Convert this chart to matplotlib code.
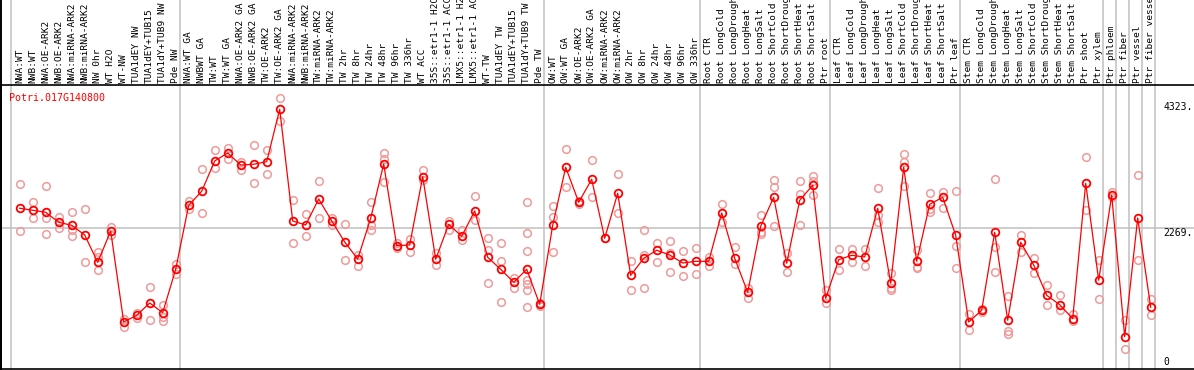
import matplotlib
matplotlib.use("Agg")
import matplotlib.pyplot as plt
from matplotlib.transforms import blended_transform_factory

gene = "Potri.017G140800"

labels = [
    "NWA:WT", "NWB:WT", "NWA:OE-ARK2", "NWB:OE-ARK2", "NWA:miRNA-ARK2", "NWB:miRNA-ARK2",
    "NW 0hr", "WT H2O", "WT-NW", "TUA1dEY NW", "TUA1dEY+TUB15", "TUA1dY+TUB9 NW", "Pde NW",
    "NWA:WT GA", "NWBWT GA", "TW:WT", "TW:WT GA", "NWA:OE-ARK2 GA", "NWB:OE-ARK2 GA",
    "TW:OE-ARK2", "TW:OE-ARK2 GA", "NWA:miRNA-ARK2", "NWB:miRNA-ARK2", "TW:miRNA-ARK2",
    "TW:miRNA-ARK2", "TW 2hr", "TW 8hr", "TW 24hr", "TW 48hr", "TW 96hr", "TW 336hr",
    "WT ACC", "35S::etr1-1 H2O", "35S::etr1-1 ACC", "LMX5::etr1-1 H2O", "LMX5::etr1-1 ACC",
    "WT-TW", "TUA1dEY TW", "TUA1dEY+TUB15", "TUA1dY+TUB9 TW", "Pde TW",
    "OW:WT", "OW:WT GA", "OW:OE-ARK2", "OW:OE-ARK2 GA", "OW:miRNA-ARK2", "OW:miRNA-ARK2",
    "OW 2hr", "OW 8hr", "OW 24hr", "OW 48hr", "OW 96hr", "OW 336hr",
    "Root CTR", "Root LongCold", "Root LongDrought", "Root LongHeat", "Root LongSalt",
    "Root ShortCold", "Root ShortDrought", "Root ShortHeat", "Root ShortSalt", "Ptr root",
    "Leaf CTR", "Leaf LongCold", "Leaf LongDrought", "Leaf LongHeat", "Leaf LongSalt",
    "Leaf ShortCold", "Leaf ShortDrought", "Leaf ShortHeat", "Leaf ShortSalt", "Ptr leaf",
    "Stem CTR", "Stem LongCold", "Stem LongDrought", "Stem LongHeat", "Stem LongSalt",
    "Stem ShortCold", "Stem ShortDrought", "Stem ShortHeat", "Stem ShortSalt", "Ptr shoot",
    "Ptr xylem", "Ptr phloem", "Ptr fiber", "Ptr vessel", "Ptr fiber vessel",
]

means = [
    2591, 2558, 2525, 2362, 2313, 2155, 1710, 2220, 737, 846, 1047, 889, 1596,
    2639, 2868, 3362, 3492, 3296, 3308, 3350, 4205, 2384, 2318, 2742, 2384, 2041,
    1764, 2428, 3313, 1981, 1992, 3106, 1759, 2330, 2134, 2547, 1792, 1596, 1384,
    1596, 1025,
    2313, 3259, 2688, 3063, 2101, 2835, 1498, 1775, 1906, 1829, 1699, 1726,
    1726, 2514, 1775, 1221, 2297, 2770, 1694, 2721, 2966, 1123,
    1753, 1824, 1797, 2591, 1368, 3259, 1726, 2656, 2770, 2150,
    737, 928, 2199, 765, 2036, 1666, 1172, 1019, 791, 2998,
    1417, 2803, 497, 2432, 977,
]

replicates = [
    [2982, 2216], [2688, 2437], [2959, 2437, 2176], [2449, 2269], [2525, 2237, 2144],
    [2574, 1710], [1873, 1801, 1580], [2286, 2150], [781, 660], [889, 802],
    [1303, 770], [1009, 823, 758], [1682, 1515],
    [2714, 2574], [3226, 2509], [3536, 3252], [3578, 3394], [3350, 3215], [3618, 2998],
    [3536, 3150], [4389, 4009], [2721, 2020], [2493, 2139], [3036, 2428], [2428, 2318],
    [2330, 1743], [1829, 1655], [2688, 2318, 2232], [3487, 3394, 3024], [2020, 1938],
    [2095, 1873], [3215, 3052], [1857, 1671], [2388, 2237], [2237, 2074], [2786, 2400],
    [2106, 1911, 1368], [2020, 1726, 1063], [1459, 1286],
    [2693, 2183, 1889, 1422, 1352, 1259, 977], [1042, 998],
    [2628, 2449, 1873], [3552, 2943], [2710, 2656], [3373, 2770], [2101], [3145, 2514],
    [1726, 1254], [2237, 1829, 1286], [2020, 1710], [2053, 1867, 1547], [1889, 1482],
    [1943, 1519],
    [1792, 1655], [2656, 2372], [1955, 1678], [1286, 1133], [2481, 2209, 2167],
    [3052, 2943, 2297], [1857, 1547], [3036, 2819, 2313], [3117, 3036, 2803], [1259, 1042],
    [1927, 1580], [1927, 1710], [1927, 1645], [2917, 2481, 2372], [1531, 1296, 1259],
    [3476, 3350, 2959], [1911, 1634, 1612], [2835, 2579, 2525], [2861, 2600],
    [2868, 1976, 1612],
    [867, 606], [949, 895], [3063, 1965, 1547], [1161, 585, 541], [2150, 1878],
    [1775, 1531], [1335, 1014], [1172, 933], [867, 753], [3422, 2558],
    [1748, 1107], [2861, 2780], [770, 292], [3129, 1743], [1107, 846],
]

group_starts = [0, 13, 41, 53, 63, 73, 84, 85, 86, 87, 88]
axis_ticks = [4323, 2269, 0]
axis_tick_labels = ["4323.", "2269.", "0"]
grid_value = 2269

W, H = 1194, 370
fig = plt.figure(figsize=(W / 100, H / 100), dpi=100)
fig.patch.set_facecolor("white")

# axes occupies pixels x 1..1194, y 85..369 (from top)
ax = fig.add_axes([1 / W, 1 / H, 1193 / W, 284 / H])
x0_pix, step = 19.7, 13.0
ax.set_xlim((1 - x0_pix) / step, (1194 - x0_pix) / step)
ax.set_ylim(-29.3, 4600)
ax.set_xticks([])
ax.set_yticks([])
for s in ["left", "bottom", "top"]:
    ax.spines[s].set_color("black")
    ax.spines[s].set_linewidth(1.2)
ax.spines["right"].set_visible(False)

mono = "DejaVu Sans Mono"
gray = "#c0c0c0"

# vertical group separators over the full figure height
bt = blended_transform_factory(ax.transData, fig.transFigure)
for b in group_starts:
    ax.plot([b - 0.68, b - 0.68], [0, 1], color=gray, lw=1.1, transform=bt,
            clip_on=False, zorder=0)

ax.axhline(grid_value, color=gray, lw=1.1, zorder=0)

# left border in label area
fig.add_artist(plt.Line2D([1 / W, 1 / W], [0, 1], color="black", lw=1.4,
                          transform=fig.transFigure))

# sample labels
for i, lab in enumerate(labels):
    ax.text(i, (H - 83) / H, lab, rotation=90, ha="center", va="bottom",
            fontsize=6.8, family=mono, transform=bt, clip_on=False,
            rotation_mode="default")

xs = list(range(len(means)))
for i, reps in enumerate(replicates):
    ax.plot([i] * len(reps), reps, "o", ms=5.5, mfc="none", mec="#f09a9a",
            mew=1.1, zorder=2, clip_on=False)
ax.plot(xs, means, "-", color="red", lw=0.9, zorder=3)
ax.plot(xs, means, "o", ms=5.5, mfc="none", mec="red", mew=1.3, zorder=4)

# right axis labels
xr = (1163.5 - x0_pix) / step
ax.text(xr, axis_ticks[0], axis_tick_labels[0], ha="left", va="top",
        fontsize=7, family=mono)
ax.text(xr, axis_ticks[1], axis_tick_labels[1], ha="left", va="top",
        fontsize=7, family=mono)
ax.text(xr, 40, axis_tick_labels[2], ha="left", va="baseline",
        fontsize=7, family=mono)

# gene title
fig.text(9.3 / W, (H - 101) / H, gene, color="red", fontsize=7.2, family=mono,
         ha="left", va="baseline")

fig.savefig("out.png", dpi=100, facecolor="white")
